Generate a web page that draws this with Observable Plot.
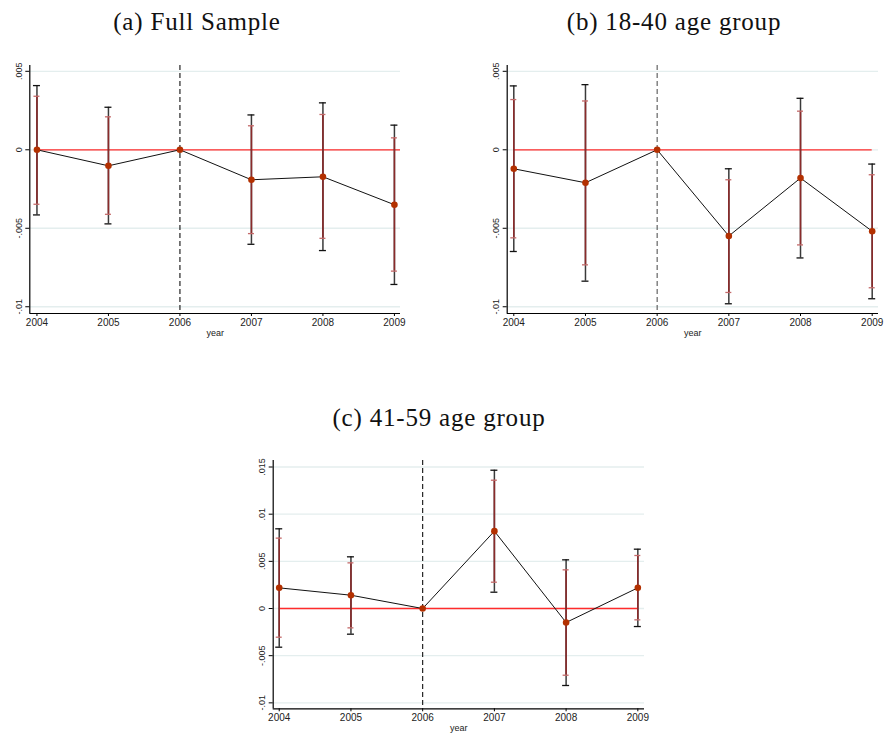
<!DOCTYPE html>
<html><head><meta charset="utf-8">
<script src="https://cdn.jsdelivr.net/npm/d3@7"></script>
<script src="https://cdn.jsdelivr.net/npm/@observablehq/plot@0.6"></script>
<style>
html,body{margin:0;padding:0;background:#fff;}
#page{position:relative;width:886px;height:738px;overflow:hidden;background:#fff;}
.title{position:absolute;font-family:"Liberation Serif","Times New Roman",serif;font-size:25px;letter-spacing:0.8px;color:#111;white-space:nowrap;transform:translate(-50%,-50%);}
.panel{position:absolute;}
.panel svg{overflow:visible;}
</style></head><body><div id="page"></div>
<script>
// ---- data ----
const years = [2004, 2005, 2006, 2007, 2008, 2009];
const refYear = 2006;

const titles = ["(a) Full Sample", "(b) 18-40 age group", "(c) 41-59 age group"];

const coefA    = [0, -0.00102, 0, -0.00191, -0.00172, -0.0035];
const outerLoA = [-0.00415, -0.00472, null, -0.00602, -0.00642, -0.00858];
const outerHiA = [0.00409, 0.00271, null, 0.00222, 0.00299, 0.00157];
const innerLoA = [-0.00347, -0.00411, null, -0.00534, -0.00564, -0.00773];
const innerHiA = [0.00341, 0.0021, null, 0.00153, 0.00225, 0.00076];

const coefB    = [-0.00121, -0.0021, 0, -0.00549, -0.0018, -0.00519];
const outerLoB = [-0.00648, -0.00837, null, -0.00981, -0.00689, -0.00949];
const outerHiB = [0.00407, 0.00415, null, -0.00121, 0.00328, -0.00091];
const innerLoB = [-0.00561, -0.00733, null, -0.00909, -0.00606, -0.00879];
const innerHiB = [0.0032, 0.00311, null, -0.00191, 0.00246, -0.00159];

const coefC    = [0.00219, 0.00141, 0, 0.0082, -0.00148, 0.00219];
const outerLoC = [-0.0041, -0.00272, null, 0.00173, -0.00816, -0.00191];
const outerHiC = [0.00845, 0.00548, null, 0.01466, 0.00516, 0.00629];
const innerLoC = [-0.00304, -0.00205, null, 0.00279, -0.00707, -0.0012];
const innerHiC = [0.00746, 0.00484, null, 0.0136, 0.0041, 0.00562];

const ticksAB = [-0.01, -0.005, 0, 0.005];
const tickLabelsAB = ["-.01", "-.005", "0", ".005"];
const ticksC = [-0.01, -0.005, 0, 0.005, 0.01, 0.015];
const tickLabelsC = ["-.01", "-.005", "0", ".005", ".01", ".015"];
const xLabel = "year";

// ---- layout ----
const page = document.getElementById("page");

function makePanel(cfg, coef, oLo, oHi, iLo, iHi, ticks, tickLabels) {
  const rows = years.map((year, i) => ({year, coef: coef[i], oLo: oLo[i], oHi: oHi[i], iLo: iLo[i], iHi: iHi[i]}));
  const ci = rows.filter(d => d.oLo != null);
  const fmt = v => tickLabels[ticks.indexOf(v)];
  const chart = Plot.plot({
    width: cfg.width, height: cfg.height,
    marginLeft: cfg.mL, marginRight: cfg.mR, marginTop: cfg.mT, marginBottom: cfg.mB,
    x: {domain: cfg.xDomain, label: null},
    y: {domain: cfg.yDomain, label: null},
    style: {background: "transparent", fontFamily: "'Liberation Sans', Arial, sans-serif", color: "#222", overflow: "visible"},
    marks: [
      Plot.gridY(ticks, {stroke: "#e4eeee", strokeOpacity: 1, strokeWidth: 1.3}),
      Plot.ruleY([0], {x1: years[0], x2: cfg.zeroEnd, stroke: "#ff2b2b", strokeWidth: 1.3}),
      Plot.ruleX([refYear], {stroke: cfg.dashColor, strokeDasharray: "5,3", strokeWidth: 1.1}),
      Plot.ruleX(ci, {x: "year", y1: "oLo", y2: "oHi", stroke: "#3a3a3a", strokeWidth: 1.5}),
      Plot.ruleY(ci, {y: "oHi", x1: "year", x2: "year", insetLeft: -3.5, insetRight: -3.5, stroke: "#111", strokeWidth: 1.3}),
      Plot.ruleY(ci, {y: "oLo", x1: "year", x2: "year", insetLeft: -3.5, insetRight: -3.5, stroke: "#111", strokeWidth: 1.3}),
      Plot.ruleX(ci, {x: "year", y1: "iLo", y2: "iHi", stroke: "#8a2b2b", strokeWidth: 1.6}),
      Plot.ruleY(ci, {y: "iHi", x1: "year", x2: "year", insetLeft: -3, insetRight: -3, stroke: "#c46a6a", strokeWidth: 1.3}),
      Plot.ruleY(ci, {y: "iLo", x1: "year", x2: "year", insetLeft: -3, insetRight: -3, stroke: "#c46a6a", strokeWidth: 1.3}),
      Plot.line(rows, {x: "year", y: "coef", stroke: "#111", strokeWidth: 1}),
      Plot.dot(rows, {x: "year", y: "coef", r: 3.3, fill: "#b33000", stroke: "none"}),
      Plot.ruleX([cfg.xDomain[0]], {stroke: "#000", strokeWidth: 1.2}),
      Plot.ruleY([cfg.yDomain[0]], {stroke: "#000", strokeWidth: 1.2}),
      Plot.axisY({ticks, tickFormat: fmt, tickSize: 4, tickPadding: 4, tickRotate: -90, fontSize: 9, label: null, stroke: "#000", fill: "#222"}),
      Plot.axisX({ticks: years, tickFormat: d => String(d), tickSize: 3, tickPadding: 2, fontSize: 10, label: null, stroke: "#000", fill: "#222"}),
      Plot.text([xLabel], {text: d => d, frameAnchor: "bottom", dy: 22, fontSize: 9, fill: "#222"})
    ]
  });
  const wrap = document.createElement("div");
  wrap.className = "panel";
  wrap.style.left = cfg.left + "px";
  wrap.style.top = cfg.top + "px";
  wrap.appendChild(chart);
  page.appendChild(wrap);

  const t = document.createElement("div");
  t.className = "title";
  t.textContent = cfg.title;
  t.style.left = cfg.titleX + "px";
  t.style.top = cfg.titleY + "px";
  page.appendChild(t);
}

makePanel({left: 0, top: 50, width: 420, height: 300, mL: 29.3, mR: 20, mT: 15, mB: 37,
  xDomain: [2003.9, 2009.085], yDomain: [-0.01043, 0.00537], zeroEnd: 2009.085, dashColor: "#111",
  title: titles[0], titleX: 197, titleY: 22},
  coefA, outerLoA, outerHiA, innerLoA, innerHiA, ticksAB, tickLabelsAB);

makePanel({left: 450, top: 50, width: 436, height: 300, mL: 56.7, mR: 8, mT: 15, mB: 37,
  xDomain: [2003.908, 2009.088], yDomain: [-0.01043, 0.00537], zeroEnd: 2009, dashColor: "#555",
  title: titles[1], titleX: 674, titleY: 22},
  coefB, outerLoB, outerHiB, innerLoB, innerHiB, ticksAB, tickLabelsAB);

makePanel({left: 230, top: 440, width: 430, height: 298, mL: 42.7, mR: 16, mT: 20, mB: 29.7,
  xDomain: [2003.916, 2009.093], yDomain: [-0.01063, 0.01569], zeroEnd: 2009, dashColor: "#111",
  title: titles[2], titleX: 439, titleY: 418},
  coefC, outerLoC, outerHiC, innerLoC, innerHiC, ticksC, tickLabelsC);
</script>
</body></html>
